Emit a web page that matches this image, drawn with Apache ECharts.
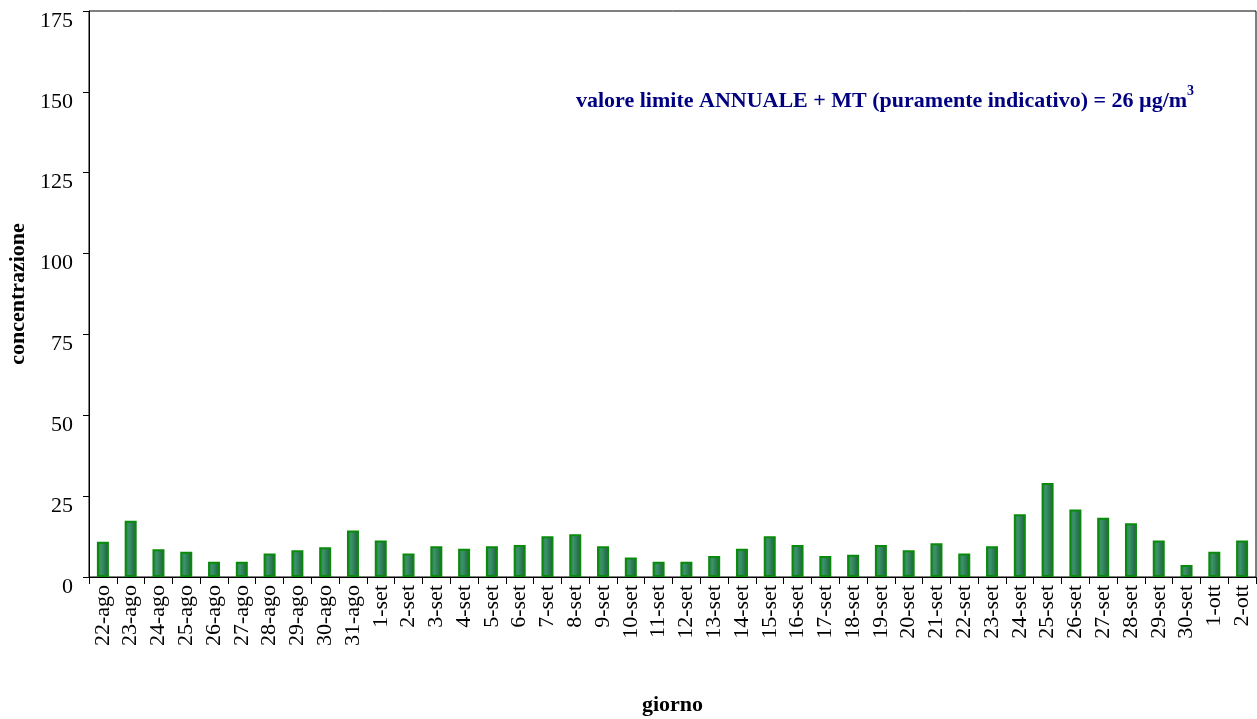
<!DOCTYPE html>
<html>
<head>
<meta charset="utf-8">
<script src="https://cdn.jsdelivr.net/npm/echarts@6/dist/echarts.min.js"></script>
<style>html,body{margin:0;padding:0;background:#fff}#c{width:1257px;height:719px}</style>
</head>
<body>
<div id="c"></div>
<script>
const categories = ['22-ago','23-ago','24-ago','25-ago','26-ago','27-ago','28-ago','29-ago','30-ago','31-ago',
  '1-set','2-set','3-set','4-set','5-set','6-set','7-set','8-set','9-set','10-set',
  '11-set','12-set','13-set','14-set','15-set','16-set','17-set','18-set','19-set','20-set',
  '21-set','22-set','23-set','24-set','25-set','26-set','27-set','28-set','29-set','30-set',
  '1-ott','2-ott'];
const values = [10.9,17.4,8.6,7.8,4.7,4.7,7.3,8.3,9.2,14.4,
  11.3,7.3,9.5,8.7,9.5,9.9,12.6,13.2,9.5,6.0,
  4.7,4.7,6.5,8.7,12.6,9.9,6.5,6.9,9.9,8.3,
  10.4,7.3,9.5,19.4,29.1,20.9,18.3,16.6,11.3,3.7,
  7.8,11.3];
const yTicks = [0,25,50,75,100,125,150,175];

const chart = echarts.init(document.getElementById('c'), null, {renderer:'canvas'});
const serif = 'Liberation Serif';
chart.setOption({
  animation:false,
  backgroundColor:'#fff',
  title:{
    left:571, top:79,
    text:'{a|valore limite ANNUALE + MT (puramente indicativo) = 26 µg/m}{s|3}',
    textStyle:{
      rich:{
        a:{fontFamily:serif,fontWeight:'bold',fontSize:22,color:'#000080',verticalAlign:'bottom'},
        s:{fontFamily:serif,fontWeight:'bold',fontSize:14,color:'#000080',verticalAlign:'top',padding:[0,0,14,0]}
      }
    }
  },
  grid:{left:89,right:1,top:11,bottom:142,outerBoundsMode:'none',containLabel:false,show:true,borderColor:'#000',borderWidth:1,backgroundColor:'transparent'},
  xAxis:{
    type:'category',
    data:categories,
    name:'giorno',
    nameLocation:'middle',
    nameGap:117,
    nameTextStyle:{fontFamily:serif,fontWeight:'bold',fontSize:22,color:'#000'},
    axisLine:{lineStyle:{color:'#000',width:1}},
    axisTick:{show:true,alignWithLabel:false,length:7,lineStyle:{color:'#000'}},
    axisLabel:{rotate:90,interval:0,margin:8,fontFamily:serif,fontSize:22,color:'#000'}
  },
  yAxis:{
    type:'value',
    min:0,max:175,interval:25,
    name:'concentrazione',
    nameLocation:'middle',
    nameGap:60,
    nameTextStyle:{fontFamily:serif,fontWeight:'bold',fontSize:22,color:'#000'},
    axisLine:{show:true,lineStyle:{color:'#000',width:1}},
    axisTick:{show:true,length:6,lineStyle:{color:'#000'}},
    splitLine:{show:false},
    axisLabel:{margin:16,verticalAlign:'top',lineHeight:20,fontFamily:serif,fontSize:22,color:'#000',
      formatter:function(v){return yTicks.indexOf(v)>=0?String(v):'';}}
  },
  series:[{
    type:'bar',
    data:values,
    barWidth:12,
    itemStyle:{
      borderColor:'#0a8a0a',
      borderWidth:2,
      color:new echarts.graphic.LinearGradient(0,0,1,0,[
        {offset:0,color:'#2f7a55'},{offset:0.35,color:'#3a9468'},{offset:1,color:'#1f5a3c'}
      ])
    }
  }]
});
</script>
</body>
</html>
